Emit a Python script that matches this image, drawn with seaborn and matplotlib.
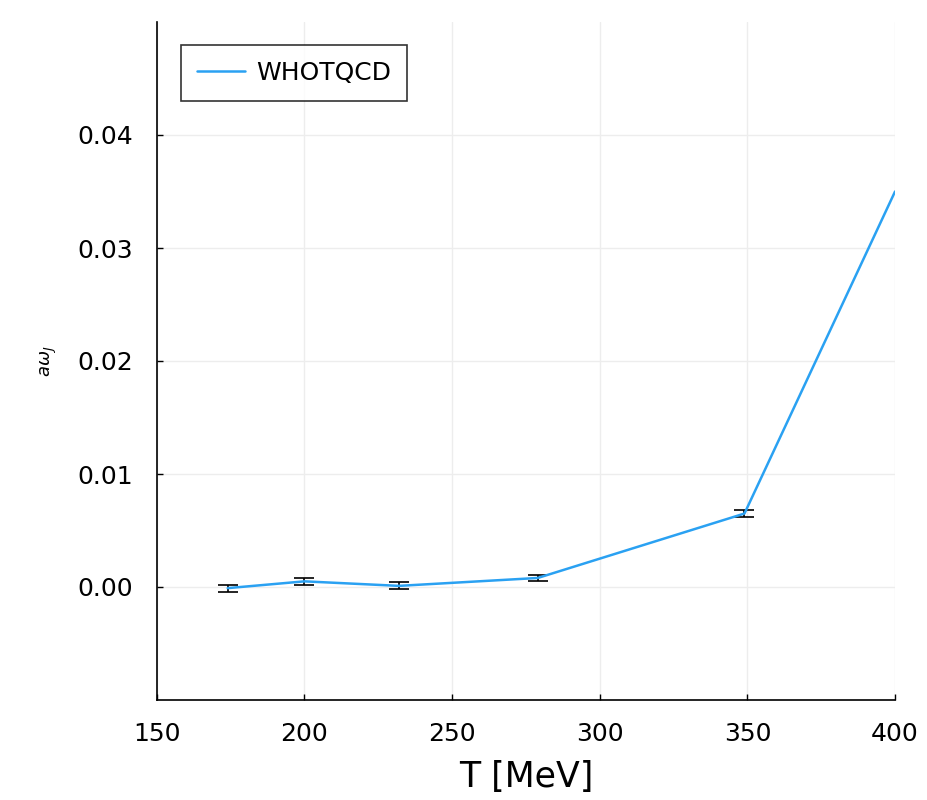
import matplotlib
matplotlib.use("Agg")
import matplotlib.pyplot as plt
import seaborn as sns
import pandas as pd

# data
temps = [174, 200, 232, 279, 349, 400]
omega = [-0.0001, 0.0005, 0.0001, 0.0008, 0.0065, 0.0350]
omega_err = [0.0003, 0.0003, 0.0003, 0.0003, 0.0003, 0.0]
series = "WHOTQCD"

df = pd.DataFrame({"T": temps, "w": omega, "err": omega_err, "src": series})

sns.set_theme(style="white")
plt.rcParams['font.family'] = ['DejaVu Sans']
plt.rcParams['text.color'] = 'black'
plt.rcParams['axes.labelcolor'] = 'black'
plt.rcParams['xtick.color'] = 'black'
plt.rcParams['ytick.color'] = 'black'

fig = plt.figure(figsize=(9.28, 8), dpi=100)
ax = fig.add_axes([0.169, 0.125, 0.7955, 0.8475])

ax.errorbar(df["T"][:-1], df["w"][:-1], yerr=df["err"][:-1], fmt="none",
            ecolor="black", elinewidth=1.2, capsize=7, capthick=1.2, zorder=3)
sns.lineplot(data=df, x="T", y="w", hue="src", palette=["#2aa1f2"],
             linewidth=1.8, ax=ax, zorder=4)

ax.set_xlim(150, 400)
ax.set_ylim(-0.01, 0.05)
ax.set_xticks([150, 200, 250, 300, 350, 400])
ax.set_yticks([0.0, 0.01, 0.02, 0.03, 0.04])
ax.set_yticklabels(["0.00", "0.01", "0.02", "0.03", "0.04"])
ax.grid(True, color="#ededed", linewidth=1)
ax.tick_params(axis="both", labelsize=18, direction="in", length=4, width=1,
               color="black", bottom=True, left=True)
ax.tick_params(axis="x", pad=16)
ax.tick_params(axis="y", pad=17)

for side in ["top", "right"]:
    ax.spines[side].set_visible(False)
for side in ["left", "bottom"]:
    ax.spines[side].set_color("black")
    ax.spines[side].set_linewidth(1.2)

ax.set_xlabel("T [MeV]", fontsize=25, labelpad=10)
ax.set_ylabel(r"$a\omega_J$", fontsize=13, labelpad=13)

leg = ax.legend(loc="upper left", fontsize=18, frameon=True, fancybox=False,
                borderpad=0.65, handlelength=1.9, handletextpad=0.45,
                bbox_to_anchor=(0.016, 0.985))
leg.get_frame().set_edgecolor("black")
leg.get_frame().set_linewidth(1.2)
leg.set_title(None)

fig.savefig("out.png", dpi=100)
